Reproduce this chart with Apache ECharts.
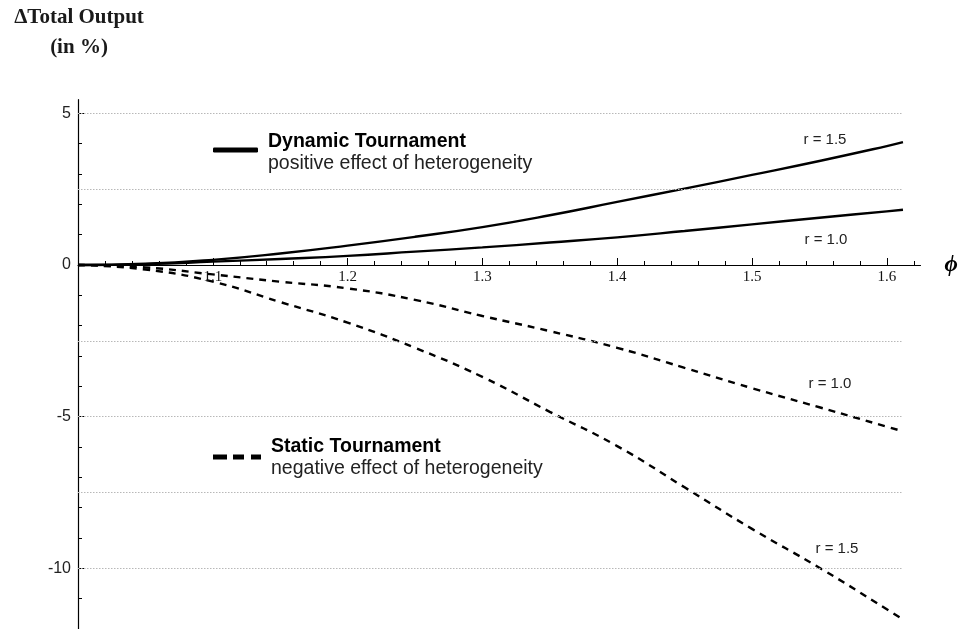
<!DOCTYPE html>
<html>
<head>
<meta charset="utf-8">
<script src="https://cdn.jsdelivr.net/npm/echarts@6/dist/echarts.min.js"></script>
<style>
  html, body { margin: 0; padding: 0; background: #fff; }
  #chart { width: 959px; height: 629px; }
</style>
</head>
<body>
<div id="chart"></div>
<script>
// Heterogeneity parameter phi and change of total output (in %)
const phi        = [1.0, 1.05, 1.1, 1.15, 1.2, 1.25, 1.3, 1.35, 1.4, 1.45, 1.5, 1.55, 1.6, 1.612];
const dynamicR15 = [0, 0.04, 0.17, 0.38, 0.64, 0.93, 1.25, 1.64, 2.08, 2.52, 2.97, 3.43, 3.92, 4.05];
const dynamicR10 = [0, 0.03, 0.11, 0.20, 0.30, 0.44, 0.58, 0.74, 0.91, 1.12, 1.34, 1.56, 1.77, 1.82];
const staticR10  = [0, -0.08, -0.31, -0.55, -0.77, -1.15, -1.68, -2.18, -2.73, -3.39, -4.06, -4.69, -5.33, -5.48];
const staticR15  = [0, -0.15, -0.55, -1.22, -1.90, -2.73, -3.69, -4.84, -5.97, -7.33, -8.70, -9.98, -11.35, -11.69];

// Axis ticks and dotted reference lines
const xTickValues = [1.1, 1.2, 1.3, 1.4, 1.5, 1.6];
const yTickValues = [-10, -5, 0, 5];
const gridValues  = [5, 2.5, -2.5, -5, -7.5, -10];

// Curve tags
const tagR15 = 'r = 1.5';
const tagR10 = 'r = 1.0';
const dynamicName = 'Dynamic Tournament';
const staticName  = 'Static Tournament';
const dynamicNote = 'positive effect of heterogeneity';
const staticNote  = 'negative effect of heterogeneity';

const SANS  = '"Liberation Sans", Arial, sans-serif';
const SERIF = '"Liberation Serif", "Times New Roman", serif';

// plot frame: the value axis runs below the canvas edge so that it reaches the bottom
const GRID_TOP = 99.7;
const GRID_HEIGHT = 620.3;

function curve(name, values, dashed, tag, offset) {
  return {
    type: 'line',
    name: name,
    data: phi.map((x, i) => [x, values[i]]),
    symbol: 'none',
    showSymbol: false,
    smooth: true,
    animation: false,
    itemStyle: { color: '#000' },
    lineStyle: { color: '#000', width: 2.4, type: dashed ? [7, 6] : 'solid' },
    endLabel: {
      show: true,
      formatter: tag,
      distance: 0,
      align: 'center',
      verticalAlign: 'middle',
      offset: offset,
      fontFamily: SANS,
      fontSize: 15,
      color: '#222'
    }
  };
}

const series = [
  curve(dynamicName, dynamicR15, false, tagR15, [-78, -2]),
  curve(dynamicName, dynamicR10, false, tagR10, [-77, 30]),
  curve(staticName, staticR10, true, tagR10, [-73, -47]),
  curve(staticName, staticR15, true, tagR15, [-66, -71])
];

// dotted horizontal reference lines across the plotted phi range
series[0].markLine = {
  silent: true,
  animation: false,
  symbol: 'none',
  label: { show: false },
  lineStyle: { color: '#b8b8b8', width: 1, type: [1.5, 1.5] },
  emphasis: { disabled: true },
  data: gridValues.map(v => [
    { coord: [phi[0], v] },
    { coord: [phi[phi.length - 1], v] }
  ])
};
series[0].z = 3;

function legendBlock(name, note, icon, width, top, padTop) {
  return {
    data: [name],
    left: 213,
    top: top,
    padding: 0,
    icon: icon,
    itemWidth: width,
    itemHeight: 5,
    selectedMode: false,
    formatter: () => '{t|' + name + '}\n{s|' + note + '}',
    textStyle: {
      padding: [padTop, 0, 0, 5],
      rich: {
        t: { fontFamily: SANS, fontWeight: 'bold', fontSize: 19.5, lineHeight: 22, color: '#000' },
        s: { fontFamily: SANS, fontSize: 19.5, lineHeight: 22, color: '#222' }
      }
    }
  };
}

// x tick labels sit just under the zero line rather than under the frame
const zeroLineY = GRID_TOP + GRID_HEIGHT * 5.45 / 20.45;
const xLabelMargin = zeroLineY - (GRID_TOP + GRID_HEIGHT) + 5;

const option = {
  backgroundColor: '#fff',
  animation: false,
  title: {
    text: '\u0394Total Output\n(in %)',
    left: 79,
    top: 3,
    padding: 0,
    textAlign: 'center',
    textStyle: { fontFamily: SERIF, fontWeight: 'bold', fontSize: 21, lineHeight: 30, color: '#1a1a1a' }
  },
  legend: [
    legendBlock(dynamicName, dynamicNote, 'roundRect', 45, 132, 6),
    legendBlock(staticName, staticNote,
      'path://M0,0h14v5h-14z M20,0h11v5h-11z M38,0h10v5h-10z', 48, 437, 2)
  ],
  grid: { left: 78, top: GRID_TOP, width: 842.5, height: GRID_HEIGHT, containLabel: false, outerBoundsMode: 'none' },
  xAxis: {
    type: 'value',
    z: 4,
    min: 1.0,
    max: 1.625,
    interval: 0.1,
    name: '\u03D5',
    nameLocation: 'end',
    nameGap: 24,
    nameTextStyle: { fontFamily: SERIF, fontStyle: 'italic', fontWeight: 'bold', fontSize: 23, color: '#000', verticalAlign: 'middle' },
    axisLine: { show: true, onZero: true, lineStyle: { color: '#000', width: 1.2 } },
    axisTick: { show: true, inside: true, length: 7, customValues: xTickValues, lineStyle: { color: '#000', width: 1 } },
    minorTick: { show: true, splitNumber: 5, length: 4, lineStyle: { color: '#000', width: 1 } },
    axisLabel: { customValues: xTickValues, formatter: v => v.toFixed(1), fontFamily: SERIF, fontSize: 15, color: '#111', margin: xLabelMargin },
    splitLine: { show: false },
    minorSplitLine: { show: false }
  },
  yAxis: {
    type: 'value',
    min: -15,
    max: 5.45,
    interval: 5,
    axisLine: { show: true, onZero: false, lineStyle: { color: '#000', width: 1.2 } },
    axisTick: { show: true, inside: true, length: 6, customValues: yTickValues, lineStyle: { color: '#000', width: 1 } },
    minorTick: { show: true, splitNumber: 5, length: 4, lineStyle: { color: '#000', width: 1 } },
    axisLabel: { customValues: yTickValues, formatter: v => String(v), fontFamily: SANS, fontSize: 16, color: '#222', margin: 7 },
    splitLine: { show: false },
    minorSplitLine: { show: false }
  },
  series: series
};

const chart = echarts.init(document.getElementById('chart'), null, { renderer: 'canvas' });
chart.setOption(option);
</script>
</body>
</html>
